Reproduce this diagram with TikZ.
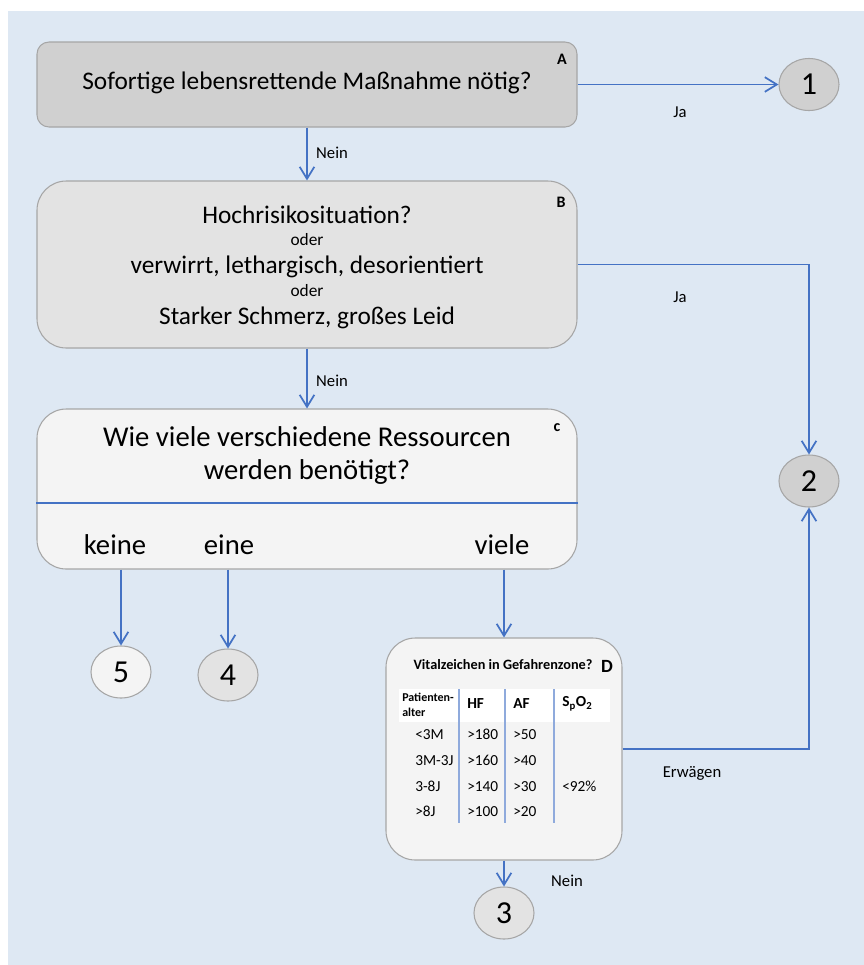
\documentclass[tikz,border=0pt]{standalone}
\usepackage{fontspec}
\setmainfont{Carlito}
\usetikzlibrary{arrows.meta,shapes.geometric}

\definecolor{bgblue}{RGB}{222,232,243}
\definecolor{lineblue}{RGB}{68,114,196}
\definecolor{tabblue}{RGB}{143,170,220}
\definecolor{boxgray}{RGB}{166,166,166}
\definecolor{fillA}{RGB}{208,208,208}
\definecolor{fillB}{RGB}{227,227,227}
\definecolor{fillC}{RGB}{244,244,244}

\tikzset{
  box/.style={draw=boxgray, line width=0.8pt, rounded corners=22pt, minimum width=405pt, inner sep=0pt},
  circ/.style={draw=boxgray, line width=0.8pt, ellipse, minimum width=45pt, minimum height=39pt, inner sep=0pt, font=\fontsize{24}{28}\selectfont},
  arr/.style={draw=lineblue, line width=1.3pt, -{Straight Barb[length=9pt,width=11pt]}},
  conn/.style={draw=lineblue, line width=1.1pt},
  big/.style={font=\fontsize{19}{22}\selectfont, inner sep=0pt},
  bigger/.style={font=\fontsize{21.5}{25}\selectfont, inner sep=0pt},
  oder/.style={font=\fontsize{13}{15}\selectfont, inner sep=0pt},
  small/.style={font=\fontsize{12.5}{14}\selectfont, inner sep=0pt},
  tag/.style={font=\bfseries\fontsize{12}{14}\selectfont, inner sep=0pt},
  cell/.style={font=\fontsize{11.5}{13}\selectfont, anchor=west, inner sep=0pt},
}

\begin{document}
\begin{tikzpicture}[x=0.75pt,y=-0.75pt]
\useasboundingbox (0,0) rectangle (864,965);
\fill[bgblue] (8,11) rectangle (864,965);

% boxes
\node[box, fill=fillA, rounded corners=9pt, minimum height=63.75pt] (A) at (307,84.5) {};
\node[box, fill=fillB, minimum height=125.25pt] (B) at (307,264.5) {};
\node[box, fill=fillC, minimum height=120pt] (C) at (307,489) {};
\node[box, fill=fillC, minimum width=177pt, minimum height=166.5pt] (D) at (504,749) {};

% circles
\node[circ, fill=fillA] (N1) at (809,84.5) {1};
\node[circ, fill=fillA] (N2) at (809,481) {2};
\node[circ, fill=fillB] (N3) at (504,913) {3};
\node[circ, fill=fillB] (N4) at (228,675) {4};
\node[circ, fill=fillC] (N5) at (121,672) {5};

% texts A
\node[big] (Atext) at (307,83) {Sofortige lebensrettende Maßnahme nötig?};
\node[tag] (Atag) at (562,59) {A};

% texts B
\node[big] (B1) at (307,215) {Hochrisikosituation?};
\node[oder] (B2) at (307,240) {oder};
\node[big] (B3) at (307,267) {verwirrt, lethargisch, desorientiert};
\node[oder] (B4) at (307,291) {oder};
\node[big] (B5) at (307,318) {Starker Schmerz, großes Leid};
\node[tag] (Btag) at (561,202) {B};

% texts C
\node[bigger] (C1) at (307,437) {Wie viele verschiedene Ressourcen};
\node[bigger] (C2) at (307,472) {werden benötigt?};
\node[tag] (Ctag) at (557,428) {c};
\node[bigger] (keine) at (115,545) {keine};
\node[bigger] (eine) at (229,545) {eine};
\node[bigger] (viele) at (502,545) {viele};
\draw[conn] (C.west |- 0,503) -- (C.east |- 0,503);

% table D
\node[font=\bfseries\fontsize{10.7}{12}\selectfont, inner sep=0pt] (Dtitle) at (503,665) {Vitalzeichen in Gefahrenzone?};
\node[font=\bfseries\fontsize{14}{16}\selectfont, inner sep=0pt] (Dtag) at (607,666) {D};
\fill[white] (399,689) rectangle (610,722);
\foreach \x in {459,505,554}
  \draw[tabblue, line width=1.1pt] (\x,689) -- (\x,823);
\node[cell, font=\bfseries\fontsize{9}{11}\selectfont, align=left] (Dage) at (402,705) {Patienten-\\alter};
\node[cell, font=\bfseries\fontsize{11.5}{13}\selectfont] (Dhf) at (467,704) {HF};
\node[cell, font=\bfseries\fontsize{11.5}{13}\selectfont] (Daf) at (513,704) {AF};
\node[cell, font=\bfseries\fontsize{11.5}{13}\selectfont] (Dspo) at (562,704) {S\textsubscript{p}O\textsubscript{2}};
\foreach \a/\h/\r [count=\i] in {<3M/>180/>50, 3M-3J/>160/>40, 3-8J/>140/>30, >8J/>100/>20} {
  \node[cell] (age\i) at (415,709+25.7*\i) {\a};
  \node[cell] (hf\i) at (467,709+25.7*\i) {\h};
  \node[cell] (af\i) at (513,709+25.7*\i) {\r};
}
\node[cell] (spo3) at (562,786) {<92\%};

% connectors
\draw[arr] (A.east) -- (N1.west);
\node[small] (ja1) at (680,112) {Ja};
\draw[arr] (A.south) -- (B.north);
\node[small] (nein1) at (332,153) {Nein};
\draw[arr] (B.east) -| (N2.north);
\node[small] (ja2) at (680,297) {Ja};
\draw[arr] (B.south) -- (C.north);
\node[small] (nein2) at (332,381) {Nein};
\draw[arr] (C.south -| N5) -- (N5.north);
\draw[arr] (C.south -| N4) -- (N4.north);
\draw[arr] (C.south -| D) -- (D.north);
\draw[arr] (D.east) -| (N2.south);
\node[small] (erw) at (692,773) {Erwägen};
\draw[arr] (D.south) -- (N3.north);
\node[small] (nein3) at (567,881) {Nein};
\end{tikzpicture}
\end{document}
